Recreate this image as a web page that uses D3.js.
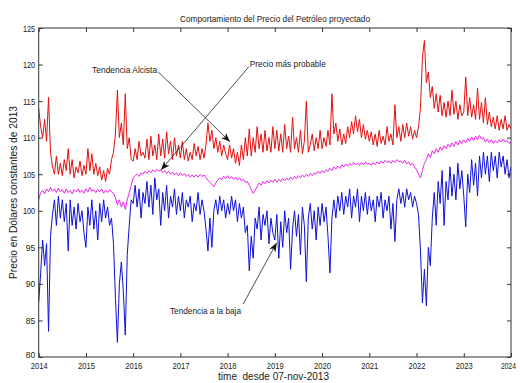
<!DOCTYPE html>
<html><head><meta charset="utf-8">
<script src="https://cdn.jsdelivr.net/npm/d3@7"></script>
<style>body{margin:0;background:#fff}svg{display:block}</style>
</head><body>
<svg id="chart" width="520" height="383"></svg>
<script>
const startYear = 2014;
const pointsPerYear = 24;
const xTicks = [2014,2015,2016,2017,2018,2019,2020,2021,2022,2023,2024];
const yTicks = [80,85,90,95,100,105,110,115,120,125];

const upperTrend = [
114.0,111.5,110.0,112.5,109.5,115.5,108.0,106.0,105.0,107.5,105.0,106.5,104.8,107.0,105.5,108.5,105.0,107.0,104.5,106.0,105.2,106.8,104.8,106.2,
105.0,108.5,105.5,107.8,105.0,106.5,104.8,106.0,104.2,105.5,104.0,105.8,105.0,107.0,108.0,110.5,116.5,110.0,112.0,109.0,116.0,108.5,110.0,107.0,
106.8,108.5,107.0,109.5,107.5,108.0,107.2,109.8,107.0,110.2,107.5,109.0,107.0,110.5,107.5,109.8,107.2,110.8,107.8,109.5,107.0,110.0,107.5,109.0,
107.2,109.5,107.0,108.5,106.8,108.0,107.0,109.2,107.5,108.8,107.0,108.5,107.2,109.0,112.0,109.5,111.0,108.5,110.0,108.0,109.5,107.5,109.0,107.8,
107.0,109.0,107.2,108.5,106.5,108.0,106.2,109.0,107.0,110.0,107.5,111.2,107.5,110.0,108.0,111.5,108.5,110.5,108.0,111.0,108.2,110.0,108.0,111.5,
108.5,111.0,108.2,110.5,108.0,111.8,108.5,110.2,108.0,112.8,108.5,110.0,108.0,111.0,107.8,109.5,115.0,108.0,109.0,110.5,108.2,110.0,108.5,111.0,
108.5,110.0,108.8,111.0,109.0,116.0,110.5,112.0,109.5,111.2,109.0,110.5,109.2,111.5,110.0,112.2,110.5,113.0,110.8,112.5,110.0,111.8,109.8,111.0,
109.5,110.8,109.0,110.5,108.8,111.0,109.2,110.2,109.0,111.5,109.5,110.5,109.0,114.5,110.0,111.5,109.5,111.8,110.0,112.0,110.2,111.5,109.8,111.0,
110.0,111.5,114.0,121.0,123.3,117.5,119.0,115.5,117.0,114.0,116.0,113.5,115.8,113.0,114.8,112.8,115.0,113.0,116.5,113.2,115.0,112.5,114.5,113.0,
113.5,118.3,113.0,115.5,112.8,114.5,112.5,116.8,112.5,114.8,112.0,115.5,111.8,113.5,111.5,112.8,111.2,113.0,111.0,112.5,111.2,113.0,111.0,111.8,111.2
];

const mostProbable = [
101.5,102.5,102.8,102.3,103.0,102.6,103.2,102.7,103.0,102.5,103.1,102.6,102.9,102.4,103.0,102.5,102.8,102.3,102.9,102.6,103.0,102.5,102.8,102.4,
103.0,102.6,103.2,102.7,102.9,102.5,102.9,102.6,103.0,102.4,102.8,102.5,102.9,102.6,102.4,101.8,100.8,101.5,100.5,101.2,100.2,101.5,102.5,103.5,
104.5,104.8,105.0,104.7,105.2,105.0,105.4,105.1,105.5,105.2,105.6,105.3,105.7,105.4,105.6,105.2,105.5,105.1,105.4,105.0,105.3,104.9,105.2,104.8,
105.2,104.8,105.1,104.7,105.0,104.6,104.9,104.6,104.9,104.6,105.0,104.7,104.9,104.5,104.2,103.9,103.6,103.3,103.8,104.2,104.5,104.3,104.7,104.4,
104.8,104.4,104.7,104.3,104.6,104.2,104.5,104.1,104.3,103.9,104.0,103.5,102.9,102.4,102.8,103.3,103.8,103.5,104.0,103.7,104.1,103.8,104.2,103.9,
104.3,103.9,104.3,104.0,104.4,104.1,104.5,104.2,104.6,104.3,104.7,104.4,104.8,104.5,104.9,104.6,105.0,104.7,105.1,104.8,105.2,105.0,105.4,105.1,
105.5,105.2,105.6,105.4,105.8,105.5,106.0,105.7,106.1,105.8,106.3,106.0,106.4,106.1,106.5,106.2,106.6,106.3,106.5,106.2,106.6,106.3,106.7,106.4,
106.5,106.2,106.6,106.3,106.7,106.4,106.8,106.5,106.9,106.6,106.8,106.5,106.9,106.6,107.0,106.7,106.8,106.5,106.9,106.4,106.7,106.2,106.5,106.0,
105.6,105.0,104.5,105.5,106.5,107.0,107.8,107.3,108.2,107.8,108.5,108.0,108.7,108.3,108.9,108.5,109.1,108.7,109.3,108.8,109.5,109.0,109.6,109.2,
109.7,109.3,109.9,109.5,110.1,109.6,110.2,109.7,110.3,109.8,110.0,109.4,109.8,109.3,109.7,109.2,109.6,109.3,109.7,109.4,109.8,109.4,109.6,109.2,109.4
];

const lowerTrend = [
87.5,91.5,96.0,92.5,95.5,83.5,96.5,99.5,101.5,98.0,102.0,99.0,101.5,98.5,101.0,94.5,101.5,98.0,100.5,97.5,101.0,98.5,100.0,97.0,
95.0,100.5,98.0,101.5,97.5,100.0,96.0,101.0,98.5,101.5,99.0,100.5,98.0,99.0,95.5,88.0,82.0,90.0,93.0,89.0,83.0,94.0,98.0,101.5,
101.0,103.5,100.5,103.0,99.0,102.5,101.0,104.0,100.5,103.5,99.5,104.5,101.5,103.0,98.0,102.5,100.0,103.5,99.0,102.0,100.5,103.0,99.5,102.0,
100.0,102.5,99.0,101.5,100.5,102.0,98.5,101.0,100.0,102.5,99.5,101.5,100.0,97.5,94.5,99.0,95.0,100.0,101.5,99.5,102.0,100.0,101.5,99.0,
101.0,99.5,102.0,100.0,101.5,98.5,101.0,99.0,100.5,97.0,98.0,91.8,96.5,93.5,99.0,97.5,100.5,96.0,99.5,98.0,100.0,95.5,99.0,97.0,
96.0,99.5,93.5,98.5,95.0,100.0,97.0,99.0,92.0,97.5,100.0,96.5,99.5,94.0,100.5,98.0,90.3,99.0,101.0,97.5,100.0,96.0,100.5,98.0,
101.0,98.5,100.5,96.5,91.5,99.0,101.5,99.0,102.0,100.0,102.5,99.5,102.0,100.5,103.0,99.0,102.0,100.5,103.0,98.5,102.0,100.0,102.5,99.5,
102.0,100.0,101.5,98.5,102.0,100.5,102.5,99.0,101.5,100.0,102.0,97.5,101.0,95.8,101.5,103.0,101.0,102.5,100.5,103.0,101.5,102.5,100.5,102.0,
101.0,99.5,94.5,87.4,92.0,87.0,95.0,92.5,99.0,102.5,98.0,104.0,101.0,105.5,98.0,104.0,101.5,106.0,102.0,105.0,101.5,106.5,103.0,105.5,
102.0,97.8,105.0,102.5,107.0,103.5,106.5,102.0,107.5,104.5,108.0,105.0,107.5,104.0,108.0,105.5,107.5,104.5,108.0,106.0,107.5,105.0,107.0,104.5,106.0
];

// annotations in data coordinates: text anchor (year, value), arrow from -> to
const annotations = [
  {text:"Tendencia Alcista",   tx:2015.13, tv:119.25, fx:2016.53, fv:119.0, ex:2018.05, ev:109.45, w:65},
  {text:"Precio más probable", tx:2018.47, tv:120.1,  fx:2018.45, fv:119.7, ex:2016.59, ev:105.58, w:76},
  {text:"Tendencia a la baja", tx:2016.78, tv:86.33,  fx:2018.33, fv:87.25, ex:2019.04, ev:95.63,  w:71}
];

const svg = d3.select("#chart");
const W = 520, H = 383;
const m = {left:38.7, top:28, right:W-511, bottom:H-357};
const iw = W - m.left - m.right, ih = H - m.top - m.bottom;

const x = d3.scaleLinear().domain([2014,2024]).range([m.left, m.left+iw]);
const y = d3.scaleLinear().domain([80,125]).range([m.top+ih, m.top]);

const FONT = "'Liberation Sans', Arial, Helvetica, sans-serif";

svg.append("rect").attr("x",0).attr("y",0).attr("width",W).attr("height",H).attr("fill","#fff");

svg.append("defs").append("clipPath").attr("id","clip")
  .append("rect").attr("x",m.left).attr("y",m.top).attr("width",iw).attr("height",ih);

const line = d3.line()
  .x((d,i)=>x(startYear + i/pointsPerYear))
  .y(d=>y(d));

const g = svg.append("g").attr("clip-path","url(#clip)");
g.append("path").datum(upperTrend).attr("d",line).attr("fill","none").attr("stroke","#e41010").attr("stroke-width",1);
g.append("path").datum(lowerTrend).attr("d",line).attr("fill","none").attr("stroke","#1010d8").attr("stroke-width",1);
g.append("path").datum(mostProbable).attr("d",line).attr("fill","none").attr("stroke","#f020f0").attr("stroke-width",1);

// axes
const axCol = "#333";
function styleAxis(sel){
  sel.select(".domain").remove();
  sel.selectAll(".tick line").attr("stroke",axCol);
  sel.selectAll("text").attr("font-family",FONT).attr("font-size",9.5).attr("fill","#222");
}
const xb = svg.append("g").attr("transform",`translate(0,${m.top+ih})`)
  .call(d3.axisBottom(x).tickValues(xTicks).tickFormat(d3.format("d")).tickSizeInner(-4).tickSizeOuter(0).tickPadding(5));
styleAxis(xb);
xb.selectAll("text").attr("textLength",17).attr("lengthAdjust","spacingAndGlyphs");
// keep last year label inside the picture
xb.selectAll("text").filter(d=>d===2024).attr("textLength",15).attr("x",-3);

const xt = svg.append("g").attr("transform",`translate(0,${m.top})`)
  .call(d3.axisTop(x).tickValues(xTicks).tickFormat("").tickSizeInner(-4).tickSizeOuter(0));
styleAxis(xt);

const yl = svg.append("g").attr("transform",`translate(${m.left},0)`)
  .call(d3.axisLeft(y).tickValues(yTicks).tickFormat(d3.format("d")).tickSizeInner(-4).tickSizeOuter(0).tickPadding(3.5));
styleAxis(yl);
yl.selectAll("text").each(function(d){
  d3.select(this).attr("textLength", String(d).length===3 ? 12.3 : 9.5).attr("lengthAdjust","spacingAndGlyphs");
});
// lift the lowest label a touch so it does not sit on the first year label
yl.selectAll("text").filter(d=>d===80).attr("dy","0.05em");

const yr = svg.append("g").attr("transform",`translate(${m.left+iw},0)`)
  .call(d3.axisRight(y).tickValues(yTicks).tickFormat("").tickSizeInner(-4).tickSizeOuter(0));
styleAxis(yr);

svg.append("rect").attr("x",m.left).attr("y",m.top).attr("width",iw).attr("height",ih)
  .attr("fill","none").attr("stroke",axCol).attr("stroke-width",1);

// title & labels
svg.append("text").attr("x",275).attr("y",19).attr("dy","0.35em").attr("text-anchor","middle")
  .attr("font-family",FONT).attr("font-size",9).attr("fill","#222")
  .attr("textLength",190).attr("lengthAdjust","spacingAndGlyphs")
  .text("Comportamiento del Precio del Petróleo proyectado");

svg.append("text").attr("x",273.5).attr("y",376.5).attr("dy","0.35em").attr("text-anchor","middle")
  .attr("font-family",FONT).attr("font-size",11).attr("fill","#222")
  .style("white-space","pre")
  .attr("textLength",111).attr("lengthAdjust","spacingAndGlyphs")
  .text("time  desde 07-nov-2013");

svg.append("text").attr("transform",`translate(13,${(m.top+m.top+ih)/2}) rotate(-90)`)
  .attr("dy","0.35em").attr("text-anchor","middle")
  .attr("font-family",FONT).attr("font-size",11).attr("fill","#222")
  .attr("textLength",173).attr("lengthAdjust","spacingAndGlyphs")
  .text("Precio en Dólares constantes de 2013");

// arrows
svg.select("defs").append("marker").attr("id","arrow")
  .attr("viewBox","-10 -5 12 10").attr("refX",0).attr("refY",0)
  .attr("markerWidth",12).attr("markerHeight",10).attr("markerUnits","userSpaceOnUse")
  .attr("orient","auto")
  .append("path").attr("d","M0,0 L-9,-3.5 L-6.5,0 L-9,3.5 Z").attr("fill","#111");

annotations.forEach(a=>{
  svg.append("line").attr("x1",x(a.fx)).attr("y1",y(a.fv)).attr("x2",x(a.ex)).attr("y2",y(a.ev))
    .attr("stroke","#222").attr("stroke-width",0.8).attr("marker-end","url(#arrow)");
  svg.append("text").attr("x",x(a.tx)).attr("y",y(a.tv)).attr("dy","0.35em")
    .attr("font-family",FONT).attr("font-size",9).attr("fill","#222")
    .attr("textLength",a.w).attr("lengthAdjust","spacingAndGlyphs")
    .text(a.text);
});
</script>
</body></html>
